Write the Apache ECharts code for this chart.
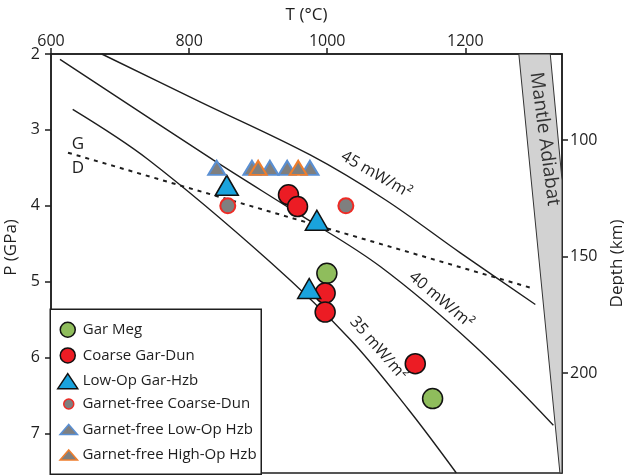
<!DOCTYPE html>
<html>
<head>
<meta charset="utf-8">
<script src="https://cdn.jsdelivr.net/npm/echarts@6/dist/echarts.min.js"></script>
<style>
  html, body { margin: 0; padding: 0; background: #fff; }
  #chart { width: 624px; height: 475px; }
</style>
</head>
<body>
<div id="chart"></div>
<script>
// Axis ticks
const tempTicks = [600, 800, 1000, 1200];
const pressureTicks = [2, 3, 4, 5, 6, 7];
const depthTicks = [100, 150, 200];

// Sample groups: [T (°C), P (GPa)]
const garMeg = [[999.5, 4.89], [1152.6, 6.54]];
const coarseGarDun = [[943.9, 3.855], [957, 4.01], [997, 5.15], [997, 5.40], [1127.5, 6.08]];
const lowOpGarHzb = [[854.6, 3.73], [985, 4.19], [973.9, 5.09]];
const gfCoarseDun = [[856, 4.0], [1027, 4.0]];
const gfLowOpHzb = [[840, 3.5], [891, 3.5], [917, 3.5], [942, 3.5], [975, 3.5]];
const gfHighOpHzb = [[900, 3.5], [958, 3.5]];

// Conductive geotherms
const geotherm45 = [[673.5, 2.0], [815.9, 2.63], [975.4, 3.33], [1084.1, 3.92], [1192.8, 4.62], [1301.4, 5.30]];
const geotherm40 = [[613, 2.07], [834.8, 3.395], [960.9, 4.12], [1076.8, 4.80], [1211.6, 5.83], [1327.5, 6.89]];
const geotherm35 = [[631.4, 2.73], [740.6, 3.39], [917.4, 4.74], [1033.3, 5.76], [1117.4, 6.68], [1187, 7.52]];
// Graphite–diamond transition
const graphiteDiamond = [[624.6, 3.30], [1298.6, 5.09]];
// Mantle adiabat band outline
const adiabatBand = [[1277.5, 2], [1323, 2], [1340, 3.66], [1340, 7.52], [1337, 7.52]];

// In-plot annotations
const noteText = ['45 mW/m²', '40 mW/m²', '35 mW/m²', 'G', 'D', 'Mantle Adiabat'];
const noteT = [1071, 1165, 1074, 639, 639, 1315];
const noteP = [3.59, 5.24, 5.88, 3.19, 3.50, 3.12];
const noteAngle = [-30, -40, -49, 0, 0, -82.4];
const noteSize = [16, 16, 16, 17, 17, 19];

const FONT = '"Open Sans", "Noto Sans", sans-serif';
const INK = '#1e1e1e';

const chart = echarts.init(document.getElementById('chart'), null, { renderer: 'canvas' });

function geothermSeries(data) {
  return {
    type: 'line', data: data, smooth: 0.35, showSymbol: false, silent: true,
    lineStyle: { color: INK, width: 1.4 }, z: 1
  };
}

function plainNumber(v) { return String(v); }

const option = {
  animation: false,
  backgroundColor: '#fff',
  textStyle: { fontFamily: FONT },
  grid: {
    left: 51, right: 62, top: 54, bottom: 2,
    outerBoundsMode: 'none', containLabel: false,
    show: true, borderColor: INK, borderWidth: 1.5, backgroundColor: 'transparent'
  },
  xAxis: {
    type: 'value', position: 'top', min: 600, max: 1340,
    name: 'T (°C)', nameLocation: 'middle', nameGap: 30,
    nameTextStyle: { fontSize: 17, color: INK, fontFamily: FONT },
    axisLine: { show: true, lineStyle: { color: INK, width: 1.5 } },
    axisTick: { show: true, inside: false, length: 6, customValues: tempTicks, lineStyle: { color: INK, width: 1.5 } },
    axisLabel: { customValues: tempTicks, formatter: plainNumber, fontSize: 16, color: INK, margin: 5, fontFamily: FONT },
    splitLine: { show: false }
  },
  yAxis: [{
    type: 'value', inverse: true, min: 2, max: 7.52, position: 'left',
    name: 'P (GPa)', nameLocation: 'middle', nameGap: 28, nameRotate: 90,
    nameTextStyle: { fontSize: 17, color: INK, fontFamily: FONT, padding: [0, 0, 0, 32] },
    axisLine: { show: true, lineStyle: { color: INK, width: 1.5 } },
    axisTick: { show: true, inside: false, length: 6, customValues: pressureTicks, lineStyle: { color: INK, width: 1.5 } },
    axisLabel: { customValues: pressureTicks, formatter: plainNumber, fontSize: 16, color: INK, margin: 11, fontFamily: FONT },
    splitLine: { show: false }
  }, {
    type: 'value', inverse: true, min: 63.1, max: 242.9, position: 'right',
    name: 'Depth (km)', nameLocation: 'middle', nameGap: 40, nameRotate: 90,
    nameTextStyle: { fontSize: 17, color: INK, fontFamily: FONT },
    axisLine: { show: true, lineStyle: { color: INK, width: 1.5 } },
    axisTick: { show: true, inside: false, length: 6, customValues: depthTicks, lineStyle: { color: INK, width: 1.5 } },
    axisLabel: { customValues: depthTicks, formatter: plainNumber, fontSize: 16, color: INK, margin: 8, fontFamily: FONT },
    splitLine: { show: false }
  }],
  graphic: [{
    type: 'rect', left: 49.5, top: 308.5,
    shape: { width: 211, height: 165 },
    style: { fill: '#fff', stroke: INK, lineWidth: 1.5 },
    z: 3
  }],
  legend: [{
    data: ['Gar Meg', 'Coarse Gar-Dun', 'Low-Op Gar-Hzb'],
    orient: 'vertical', left: 57, top: 321.5, padding: 0,
    itemWidth: 20, itemHeight: 15, itemGap: 9.2, symbolKeepAspect: true,
    itemStyle: { borderWidth: 1.5 },
    textStyle: { fontSize: 15, color: INK, fontFamily: FONT, lineHeight: 16 },
    z: 6
  }, {
    data: ['Garnet-free Coarse-Dun', 'Garnet-free Low-Op Hzb', 'Garnet-free High-Op Hzb'],
    orient: 'vertical', left: 59.3, top: 396, padding: 0,
    itemWidth: 17.4, itemHeight: 10, itemGap: 9.5, symbolKeepAspect: true,
    itemStyle: { borderWidth: 1.5 },
    textStyle: { fontSize: 15, color: INK, fontFamily: FONT, lineHeight: 16 },
    z: 6
  }],
  series: [
    {
      // mantle adiabat band
      type: 'custom', silent: true, z: 1,
      data: adiabatBand,
      renderItem: function (params, api) {
        if (params.dataIndex !== 0) return null;
        const pts = adiabatBand.map(function (d) { return api.coord(d); });
        return {
          type: 'polygon', shape: { points: pts },
          style: { fill: '#d2d2d2', stroke: '#333', lineWidth: 1 }
        };
      }
    },
    geothermSeries(geotherm45),
    geothermSeries(geotherm40),
    geothermSeries(geotherm35),
    {
      type: 'line', data: graphiteDiamond, showSymbol: false, silent: true, z: 1,
      lineStyle: { color: INK, width: 2, type: [4, 5] }
    },
    {
      // curve and field annotations
      type: 'custom', silent: true, z: 1,
      data: noteT.map(function (t, i) { return [t, noteP[i]]; }),
      renderItem: function (params, api) {
        const i = params.dataIndex;
        const p = api.coord([noteT[i], noteP[i]]);
        return {
          type: 'text', x: p[0], y: p[1],
          rotation: noteAngle[i] * Math.PI / 180,
          style: {
            text: noteText[i], fill: i === 5 ? '#333' : INK,
            font: noteSize[i] + 'px ' + FONT,
            align: 'center', verticalAlign: 'middle'
          }
        };
      }
    },
    {
      name: 'Gar Meg', type: 'scatter', data: garMeg, symbol: 'circle', symbolSize: 20, z: 3,
      itemStyle: { color: '#8fbd5c', borderColor: '#111', borderWidth: 1.5, opacity: 1 }
    },
    {
      name: 'Coarse Gar-Dun', type: 'scatter', data: coarseGarDun, symbol: 'circle', symbolSize: 20, z: 3,
      itemStyle: { color: '#ec1c24', borderColor: '#111', borderWidth: 1.5, opacity: 1 }
    },
    {
      name: 'Low-Op Gar-Hzb', type: 'scatter', data: lowOpGarHzb, symbol: 'triangle', symbolSize: [23, 20], z: 3,
      itemStyle: { color: '#1aa3dd', borderColor: '#111', borderWidth: 1.5, opacity: 1 }
    },
    {
      name: 'Garnet-free Coarse-Dun', type: 'scatter', data: gfCoarseDun, symbol: 'circle', symbolSize: 15, z: 3,
      itemStyle: { color: '#7f7f7f', borderColor: '#ee2a24', borderWidth: 2, opacity: 1 }
    },
    {
      name: 'Garnet-free Low-Op Hzb', type: 'scatter', data: gfLowOpHzb, symbol: 'triangle', symbolSize: [17, 14], z: 3,
      itemStyle: { color: '#7f7f7f', borderColor: '#5a8fd2', borderWidth: 2, opacity: 1 }
    },
    {
      name: 'Garnet-free High-Op Hzb', type: 'scatter', data: gfHighOpHzb, symbol: 'triangle', symbolSize: [17, 14], z: 3,
      itemStyle: { color: '#7f7f7f', borderColor: '#ef7d2c', borderWidth: 2, opacity: 1 }
    }
  ]
};

chart.setOption(option);
</script>
</body>
</html>
